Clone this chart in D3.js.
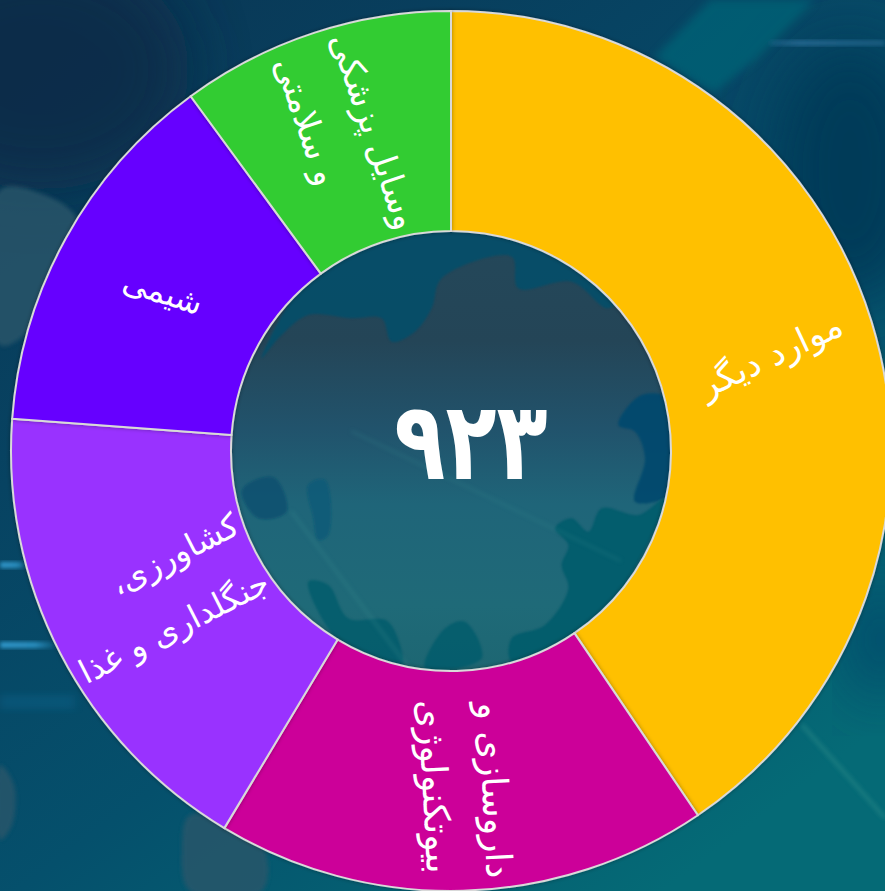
<!DOCTYPE html>
<html lang="fa"><head><meta charset="utf-8">
<script src="https://cdn.jsdelivr.net/npm/d3@7/dist/d3.min.js"></script>
<style>html,body{margin:0;padding:0;background:#0a3a55;overflow:hidden}svg{display:block}</style>
</head><body><svg id="c" width="885" height="891"></svg>
<script>
const categories = ["موارد دیگر","داروسازی و بیوتکنولوژی","کشاورزی، جنگلداری و غذا","شیمی","وسایل پزشکی و سلامتی"];
const values = [374,167,162,127,93];
const colors = ["#FFC000","#CC0099","#9933FF","#6600FF","#33CC33"];
const labelLines = [["موارد دیگر"],["داروسازی و","بیوتکنولوژی"],["کشاورزی،","جنگلداری و غذا"],["شیمی"],["وسایل پزشکی","و سلامتی"]];
const labelRotation = [-25,87,-27,18,71];
const labelSize = [35,36,33,32,34];
const labelNudge = [[[5,3]],[[0,11],[5,4]],[[32,-18],[2,-3]],[[0,3]],[[-7,5],[-13,-26]]];
const totalLabel = "۹۲۳";

const W=885,H=891,cx=451,cy=451,R=440,r=220;
const svg=d3.select("#c"), defs=svg.append("defs");
function lin(id,x1,y1,x2,y2,stops){const g=defs.append("linearGradient").attr("id",id).attr("x1",x1).attr("y1",y1).attr("x2",x2).attr("y2",y2);
 stops.forEach(s=>g.append("stop").attr("offset",s[0]).attr("stop-color",s[1]).attr("stop-opacity",s[2]===undefined?1:s[2]));}
lin("bg",0,0,.75,1,[[0,"#0a3553"],[.35,"#074362"],[.65,"#05506c"],[1,"#056a76"]]);
lin("hole",0,0,0,1,[[0,"#24485a"],[.25,"#244557"],[.45,"#21536c"],[.62,"#1f6579"],[.85,"#1f6a78"],[1,"#1d6672"]]);
lin("streak",0,0,1,0,[[0,"#35a5dc",.9],[.6,"#35a5dc",.8],[1,"#35a5dc",0]]);
lin("streakR",0,0,1,0,[[0,"#2a6f9a",.4],[.25,"#2a6f9a",.9],[1,"#2a6f9a",.6]]);
const bl=(id,s)=>defs.append("filter").attr("id",id).attr("x","-30%").attr("y","-30%").attr("width","160%").attr("height","160%").append("feGaussianBlur").attr("stdDeviation",s);
bl("b1",1);bl("b2",2);bl("b4",4);bl("b30",30);
const sh=defs.append("filter").attr("id","sh").attr("x","-5%").attr("y","-5%").attr("width","110%").attr("height","110%");
sh.append("feDropShadow").attr("dx",0).attr("dy",0).attr("stdDeviation",2).attr("flood-color","#000").attr("flood-opacity",.35);
const blob=d3.line().curve(d3.curveCatmullRomClosed.alpha(.5));

// background
const bg=svg.append("g");
bg.append("rect").attr("width",W).attr("height",H).attr("fill","url(#bg)");
bg.append("ellipse").attr("cx",40).attr("cy",70).attr("rx",150).attr("ry",120).attr("fill","#082c47").attr("opacity",.8).attr("filter","url(#b30)");
bg.append("ellipse").attr("cx",850).attr("cy",170).attr("rx",80).attr("ry",130).attr("fill","#063b58").attr("filter","url(#b30)");
bg.append("ellipse").attr("cx",880).attr("cy",640).attr("rx",30).attr("ry",60).attr("fill","#05496b").attr("filter","url(#b30)");
bg.append("polygon").attr("points","655,57 710,0 815,0 755,60 715,92 700,85").attr("fill","#056074").attr("opacity",.85).attr("filter","url(#b4)");
[[[0,190],[45,195],[75,215],[80,235],[30,330],[0,345]],[[0,765],[14,785],[12,825],[0,840]],[[190,815],[262,845],[262,891],[190,891],[182,850]]].forEach(p=>
 bg.append("path").attr("d",blob(p)).attr("fill","#2a566a").attr("opacity",.8).attr("filter","url(#b2)"));
[[0,565,28,6,"streak"],[0,645,58,6,"streak"],[770,43,115,5,"streakR"]].forEach(s=>
 bg.append("rect").attr("x",s[0]).attr("y",s[1]-s[3]/2).attr("width",s[2]).attr("height",s[3]).attr("fill",`url(#${s[4]})`).attr("filter","url(#b2)"));
bg.append("line").attr("x1",802).attr("y1",725).attr("x2",885).attr("y2",818).attr("stroke","#2a8a88").attr("stroke-width",4).attr("opacity",.55).attr("filter","url(#b2)");
bg.append("rect").attr("x",0).attr("y",695).attr("width",75).attr("height",14).attr("fill","#0a6a96").attr("opacity",.35).attr("filter","url(#b4)");

// ring
const pie=d3.pie().sort(null).value(d=>d)(values);
const arc=d3.arc().innerRadius(r).outerRadius(R);
const g=svg.append("g").attr("transform",`translate(${cx},${cy})`);
g.append("circle").attr("r",r).attr("fill","url(#hole)");
// continents seen through the hole (decoration, outlined in crop coordinates)
const hz=p=>p.map(q=>[q[0]/3-226,q[1]/3-226]);
const clip=defs.append("clipPath").attr("id","holeClip");clip.append("circle").attr("r",r);
const mg=g.append("g").attr("clip-path","url(#holeClip)");
[[[[110,400],[170,330],[250,270],[380,280],[470,280],[500,350],[570,320],[620,250],[650,160],[860,95],[880,190],[1040,170],[1150,250],[1200,200],[1000,20],[680,0],[300,100]],"#05506c",.8],
 [[[1180,600],[1250,510],[1350,530],[1345,800],[1230,830],[1260,700],[1230,620]],"#014a6e",.9],
 [[[990,910],[1040,880],[1090,920],[1130,850],[1240,870],[1320,820],[1200,1080],[1050,1240],[860,1310],[860,1240],[960,1200],[1030,1090],[1010,1020],[1030,960]],"#045c6c",.9],
 [[[50,800],[90,765],[150,760],[185,860],[100,880]],"#0a5070",.8],
 [[[250,780],[300,765],[310,930],[280,945],[265,880]],"#0a5a78",.8],
 [[[250,1070],[310,1080],[370,1180],[490,1190],[530,1340],[350,1260]],"#045c6c",.8],
 [[[600,1330],[660,1210],[720,1190],[770,1300]],"#045c6c",.8]
].forEach(p=>mg.append("path").attr("d",blob(hz(p[0]))).attr("fill",p[1]).attr("opacity",p[2]).attr("filter","url(#b1)"));
mg.append("line").attr("x1",-100).attr("y1",-20).attr("x2",170).attr("y2",110).attr("stroke","#3a8a90").attr("stroke-width",3).attr("opacity",.25).attr("filter","url(#b2)");
mg.append("line").attr("x1",-160).attr("y1",60).attr("x2",-40).attr("y2",220).attr("stroke","#3a8a90").attr("stroke-width",4).attr("opacity",.25).attr("filter","url(#b2)");

g.selectAll("path.s").data(pie).join("path").attr("class","s").attr("d",arc)
 .attr("fill",(d,i)=>colors[i]).attr("stroke","#d9d9d9").attr("stroke-width",2).attr("stroke-linejoin","round").attr("filter","url(#sh)");
// labels
const FF="'DejaVu Sans','Noto Sans',sans-serif";
g.selectAll("g.l").data(pie).join("g").attr("class","l")
 .each(function(d,i){const c=arc.centroid(d),L=labelLines[i],s=d3.select(this),lh=65,a=labelRotation[i]*Math.PI/180;
   L.forEach((t,j)=>{const o=(j-(L.length-1)/2)*lh,n=labelNudge[i][j];
     const x=c[0]-o*Math.sin(a)+n[0],y=c[1]+o*Math.cos(a)+n[1];
     s.append("text").attr("transform",`translate(${x},${y}) rotate(${labelRotation[i]})`).attr("text-anchor","middle").attr("dominant-baseline","middle").attr("direction","rtl")
     .attr("font-family",FF).attr("font-size",labelSize[i]).attr("fill","#fff").text(t);});});
g.append("text").attr("transform","translate(20,-2) scale(.91,1.18)").attr("text-anchor","middle").attr("dominant-baseline","middle").attr("font-family",FF).attr("font-weight","bold").attr("font-size",92).attr("fill","#fff").text(totalLabel);
</script></body></html>
